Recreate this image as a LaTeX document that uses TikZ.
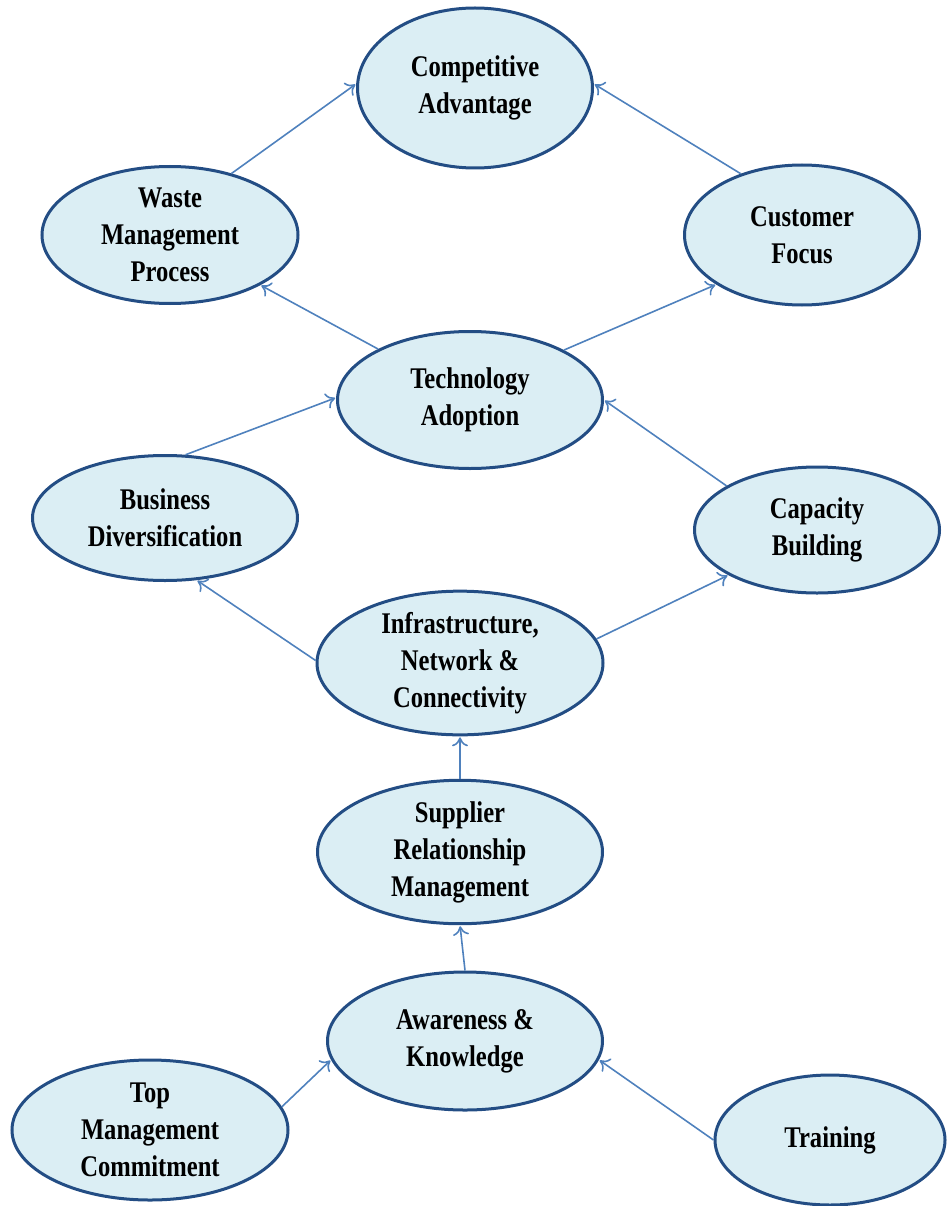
\documentclass[tikz,border=0pt]{standalone}
\usepackage{fontspec}
\setmainfont{Liberation Serif}[BoldFeatures={FakeStretch=0.82}]
\usetikzlibrary{shapes.geometric,arrows.meta}
\definecolor{ovalfill}{HTML}{DBEEF4}
\definecolor{ovaldraw}{HTML}{234D84}
\definecolor{linkblue}{HTML}{4F81BD}
\tikzset{
  factor/.style={ellipse, draw=ovaldraw, fill=ovalfill, line width=3pt, inner sep=0pt,
    align=center, font=\bfseries\fontsize{30}{37}\selectfont},
  link/.style={draw=linkblue, line width=1.6pt, -{To[length=9pt,width=16pt]}, shorten >=1pt}
}
\begin{document}
\begin{tikzpicture}[x=1pt,y=-1pt]
		\useasboundingbox (0,0) rectangle (947,1206);
		%\draw[gray!50, thin, step=50] (0,0) grid (947,1206);
		\node[factor, minimum width=235, minimum height=160] (comp) at (475,88) {Competitive\\Advantage};
		\node[factor, minimum width=256, minimum height=137] (waste) at (170,235) {Waste\\Management\\Process};
		\node[factor, minimum width=235, minimum height=140] (cust) at (802,235) {Customer\\Focus};
		\node[factor, minimum width=265, minimum height=137] (tech) at (470,400) {Technology\\Adoption};
		\node[factor, minimum width=265, minimum height=125] (biz) at (165,518) {Business\\Diversification};
		\node[factor, minimum width=245, minimum height=126] (cap) at (817,530) {Capacity\\Building};
		\node[factor, minimum width=286, minimum height=139] (infra) at (460,663) {Infrastructure,\\Network \&\\Connectivity};
		\node[factor, minimum width=285, minimum height=137] (supp) at (460,852) {Supplier\\Relationship\\Management};
		\node[factor, minimum width=275, minimum height=138] (aware) at (465,1041) {Awareness \&\\Knowledge};
		\node[factor, minimum width=276, minimum height=140] (top) at (150,1130) {Top\\Management\\Commitment};
		\node[factor, minimum width=230, minimum height=130] (train) at (830,1140) {Training};
		
		\draw[link] (waste.45) -- (comp.178);
		\draw[link] (cust.135) -- (comp.2);
		\draw[link] (tech.151) -- (waste.331);
		\draw[link] (tech.28) -- (cust.210);
		\draw[link] (biz.72) -- (tech.179);
		\draw[link] (cap.154) -- (tech.0);
		\draw[link] (infra.179) -- (biz.297);
		\draw[link] (infra.10) -- (cap.207);
		\draw[link] (supp.90) -- (infra.270);
		\draw[link] (aware.90) -- (supp.270);
		\draw[link] (top.10) -- (aware.188);
		\draw[link] (train.180) -- (aware.352);
\end{tikzpicture}
\end{document}
